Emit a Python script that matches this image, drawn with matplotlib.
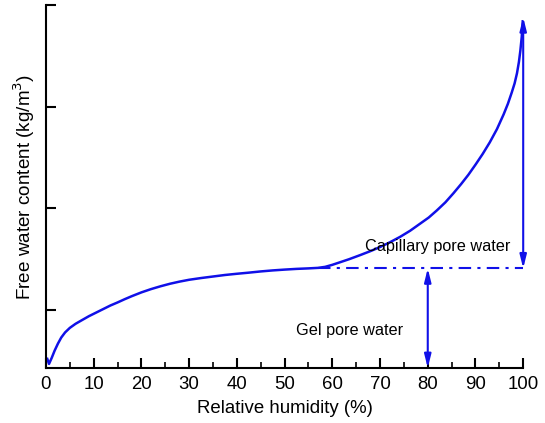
import matplotlib
matplotlib.use("Agg")
import matplotlib.pyplot as plt
import numpy as np

plt.rcParams["font.family"] = ["Liberation Sans", "DejaVu Sans"]

# relative humidity (%) and free water content (arbitrary units)
rh = [0.27, 0.63, 1.2, 1.8, 2.5, 3.2, 4.0, 5.0, 6.2, 7.5, 9.0, 10.5, 12.0, 13.5,
      15.0, 16.5, 18.0, 20.0, 22.0, 24.0, 26.0, 28.0, 30.0, 32.5, 35.0, 37.5,
      40.0, 42.5, 45.0, 47.5, 50.0, 52.5, 55.0, 57.0, 58.5, 60.0, 61.6, 63.5,
      65.8, 68.0, 70.0, 72.0, 74.2, 76.3, 78.4, 80.2, 81.9, 83.7, 85.4, 87.0,
      88.5, 90.0, 91.5, 93.0, 94.5, 95.9, 96.8, 97.6, 98.2, 98.7, 99.1, 99.4,
      99.7, 99.9]
water = [0.52, 0.47, 0.53, 0.60, 0.67, 0.73, 0.78, 0.825, 0.865, 0.90, 0.94,
         0.975, 1.01, 1.045, 1.075, 1.107, 1.137, 1.174, 1.206, 1.234, 1.259,
         1.28, 1.298, 1.315, 1.33, 1.345, 1.357, 1.368, 1.38, 1.39, 1.398, 1.405,
         1.41, 1.415, 1.425, 1.445, 1.47, 1.50, 1.54, 1.58, 1.62, 1.665, 1.72,
         1.78, 1.85, 1.91, 1.98, 2.06, 2.15, 2.24, 2.33, 2.43, 2.535, 2.65, 2.78,
         2.925, 3.03, 3.14, 3.23, 3.33, 3.44, 3.55, 3.69, 3.84]

gel_level = 1.41
gel_start = 57
top_arrow = 3.88
y_ticks = [1, 2, 3, 4]
x_ticks = np.arange(0, 101, 10)

blue = "#1010e8"

fig = plt.figure(figsize=(5.45, 4.23), dpi=100)
ax = fig.add_axes([0.0844, 0.130, 0.8756, 0.858])

ax.plot(rh, water, color=blue, lw=1.8, solid_joinstyle="round")

# dash-dot boundary between gel and capillary water
ax.plot([gel_start, 100], [gel_level, gel_level], color=blue, lw=1.5,
        dashes=(6, 3, 1.5, 3))

arrow = dict(arrowstyle="<|-|>,head_length=0.8,head_width=0.2",
             color=blue, lw=1.5, shrinkA=0, shrinkB=0)
ax.annotate("", xy=(80, 0.43), xytext=(80, gel_level), arrowprops=arrow)
ax.annotate("", xy=(100, top_arrow), xytext=(100, gel_level), arrowprops=arrow)

ax.text(82, 1.63, "Capillary pore water", ha="center", va="center", fontsize=11.7)
ax.text(63.7, 0.80, "Gel pore water", ha="center", va="center", fontsize=11.7)

ax.set_xlim(0, 100)
ax.set_ylim(0.43, 4.0)
ax.set_xticks(x_ticks)
ax.set_xticks(np.arange(5, 100, 10), minor=True)
ax.set_yticks(y_ticks)
ax.set_yticklabels([])

for s in ["top", "right"]:
    ax.spines[s].set_visible(False)
for s in ["left", "bottom"]:
    ax.spines[s].set_linewidth(1.5)

ax.tick_params(axis="both", which="major", direction="in", length=7, width=1.5,
               labelsize=13.4)
ax.tick_params(axis="x", which="minor", direction="in", length=4, width=1.2)
ax.tick_params(axis="x", pad=6)

ax.set_xlabel("Relative humidity (%)", fontsize=13.4, labelpad=5)
ax.set_ylabel("Free water content (kg/m$^3$)", fontsize=13.6, labelpad=3)

fig.savefig("out.png", dpi=100)
